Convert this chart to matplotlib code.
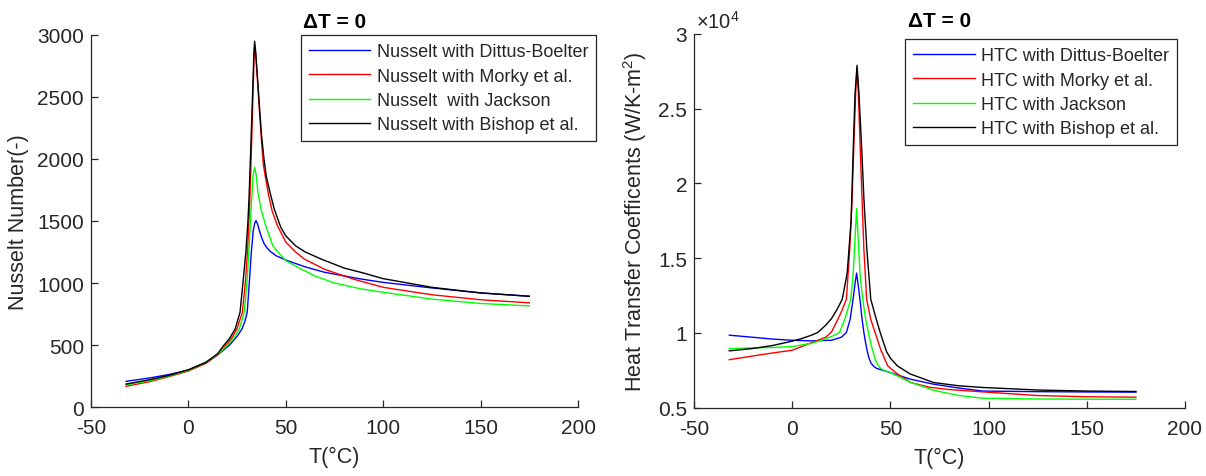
import matplotlib
matplotlib.use('Agg')
import matplotlib.pyplot as plt
from matplotlib.ticker import FuncFormatter

plt.rcParams['font.family'] = ['Liberation Sans', 'DejaVu Sans']
plt.rcParams['mathtext.fontset'] = 'custom'
plt.rcParams['mathtext.rm'] = 'Liberation Sans'
plt.rcParams['mathtext.it'] = 'Liberation Sans:italic'
plt.rcParams['axes.unicode_minus'] = False

# ---- Nusselt number data (left panel) ----
t_nu_db = [-32, -20, -10, 0, 9, 15, 20.8, 25, 27.5, 29, 30.2, 30.8, 31.4, 32.3, 33.3, 34, 34.7,
           35.5, 36.5, 37.5, 38.8, 40, 42, 45, 50, 60, 70, 88.7, 100, 125, 150, 175]
nu_db = [207, 234, 262, 298, 360, 420, 494, 570, 629, 690, 764, 900, 1032, 1250, 1420, 1480, 1503,
         1475, 1420, 1370, 1320, 1290, 1255, 1220, 1185, 1130, 1086, 1032, 1005, 960, 920, 893]

t_nu_mo = [-32, -20, -10, 0, 9, 15, 19.1, 22, 24.9, 27.7, 29.4, 30.5, 31.5, 32.5, 33.3, 33.8, 34.1,
           34.6, 35.5, 36.5, 37.5, 38.5, 40.9, 43, 45.7, 50, 55, 59.4, 70, 85, 100, 125, 150, 175]
nu_mo = [167, 204, 245, 290, 352, 420, 494, 550, 629, 764, 1032, 1300, 1650, 2150, 2600, 2850, 2910,
         2840, 2620, 2380, 2150, 1950, 1730, 1580, 1462, 1330, 1250, 1194, 1110, 1030, 965, 905, 865, 840]

t_nu_ja = [-32, -20, -10, 0, 8.8, 15, 19.9, 23.5, 26.1, 28.7, 30.2, 31.2, 32.2, 33.2, 34, 34.8,
           35.7, 37.5, 39.7, 43.3, 46.5, 50, 57, 64.6, 75, 88.7, 100, 125, 150, 175]
nu_ja = [178, 212, 250, 295, 360, 425, 494, 560, 629, 764, 1032, 1300, 1600, 1870, 1933, 1870,
         1731, 1580, 1462, 1301, 1240, 1180, 1120, 1059, 1000, 952, 925, 870, 835, 815]

t_nu_bi = [-32, -20, -10, 0, 9, 15, 18, 21, 24, 26.5, 28.2, 29.5, 30.5, 31.1, 32, 33, 33.6, 34,
           34.5, 35.5, 36.5, 37.5, 38.8, 40, 41.9, 44, 47.4, 50, 55, 60, 68, 80, 90, 100, 125, 150, 175]
nu_bi = [185, 220, 255, 300, 360, 430, 494, 550, 629, 764, 1032, 1250, 1480, 1677, 2080, 2550, 2850, 2950,
         2870, 2650, 2420, 2200, 2000, 1860, 1730, 1600, 1450, 1380, 1300, 1250, 1194, 1120, 1080, 1035, 965, 920, 893]

# ---- Heat transfer coefficient data (right panel) ----
t_h_db = [-32, -20, -10, 0, 10, 20, 25, 27.6, 29.5, 31, 32, 32.8, 33.6, 34.5, 35.5, 36.5, 37,
          38, 39, 40, 41.5, 43, 44.8, 50, 60, 72, 85, 97, 125, 150, 175]
h_db = [9840, 9700, 9580, 9500, 9460, 9500, 9700, 10020, 10900, 12250, 13300, 14000, 13200, 12250, 11000, 10020, 9600,
        8900, 8350, 8000, 7750, 7620, 7540, 7340, 6900, 6560, 6300, 6100, 6060, 6040, 6030]

t_h_mo = [-32, -20, -10, 0, 10, 17, 20, 22.5, 25, 27.6, 29.3, 30.5, 31.5, 32.3, 33, 33.7, 34.6,
          35.6, 36.5, 37.9, 40, 42.2, 45, 48.6, 54, 60.4, 70, 80, 97, 125, 150, 175]
h_mo = [8200, 8450, 8650, 8830, 9350, 9700, 10050, 10700, 11400, 12250, 15600, 19000, 23000, 26000, 27700, 26000, 22500,
        18800, 15600, 12250, 10900, 10020, 8900, 7790, 7200, 6670, 6350, 6200, 6045, 5800, 5720, 5690]

t_h_ja = [-32, -20, -10, 0, 10, 15, 20, 24.1, 27, 29.8, 31, 32, 32.8, 33.6, 34.6, 35.9, 37.3,
          38.8, 40, 41, 42.2, 43.4, 45, 47, 50, 60, 72, 85, 97, 125, 150, 175]
h_ja = [8940, 8990, 9020, 9080, 9300, 9500, 9750, 10020, 11000, 12250, 13800, 16300, 18330, 16300, 13800, 12250, 11000,
        10020, 9300, 8800, 8250, 7900, 7620, 7460, 7340, 6700, 6150, 5800, 5620, 5570, 5555, 5550]

t_h_bi = [-32, -20, -10, 0, 5, 10, 13, 17, 20, 23, 25.5, 28, 30, 31, 32, 33, 34, 35.4, 36.5, 38,
          40, 42.4, 44.8, 48, 50, 53.5, 60, 72, 85, 97, 125, 150, 175]
h_bi = [8790, 8950, 9150, 9440, 9620, 9850, 10020, 10500, 10950, 11600, 12250, 14000, 17500, 22000, 26000, 27900, 26000, 22300, 19000, 15600,
        12250, 11100, 10020, 8750, 8300, 7790, 7250, 6670, 6450, 6340, 6170, 6100, 6070]

nu_labels = ['Nusselt with Dittus-Boelter', 'Nusselt with Morky et al.',
             'Nusselt  with Jackson', 'Nusselt with Bishop et al.']
h_labels = ['HTC with Dittus-Boelter', 'HTC with Morky et al.',
            'HTC with Jackson', 'HTC with Bishop et al.']
colors = ['#0000ff', '#ff0000', '#00ff00', '#000000']

axcol = '#262626'
W, H = 1206, 477
fig = plt.figure(figsize=(W / 100, H / 100), dpi=100)

ax1 = fig.add_axes([91 / W, 1 - 408 / H, 487 / W, 372 / H])
ax2 = fig.add_axes([694 / W, 1 - 408.5 / H, 491 / W, 373.5 / H])


def style(ax):
    for s in ['top', 'right']:
        ax.spines[s].set_visible(False)
    for s in ['left', 'bottom']:
        ax.spines[s].set_color(axcol)
        ax.spines[s].set_linewidth(0.9)
    ax.tick_params(direction='in', length=5, width=0.9, colors=axcol, labelsize=15)
    ax.tick_params(axis='x', pad=8)
    ax.tick_params(axis='y', pad=5)
    ax.set_xlim(-50, 200)
    ax.set_xticks([-50, 0, 50, 100, 150, 200])
    ax.set_xlabel('T(°C)', fontsize=15.5, color=axcol)
    ax.xaxis.set_label_coords(0.5, -0.105)


for t, v, c, lab in zip([t_nu_db, t_nu_mo, t_nu_ja, t_nu_bi], [nu_db, nu_mo, nu_ja, nu_bi], colors, nu_labels):
    ax1.plot(t, v, color=c, lw=1.0, label=lab)
style(ax1)
ax1.set_ylim(0, 3000)
ax1.set_yticks([0, 500, 1000, 1500, 2000, 2500, 3000])
ax1.set_ylabel('Nusselt Number(-)', fontsize=15.5, color=axcol)
ax1.yaxis.set_label_coords(-0.127, 0.5)
ax1.set_title('ΔT = 0', fontsize=15, fontweight='bold', pad=6)

for t, v, c, lab in zip([t_h_db, t_h_mo, t_h_ja, t_h_bi], [h_db, h_mo, h_ja, h_bi], colors, h_labels):
    ax2.plot(t, v, color=c, lw=1.0, label=lab)
style(ax2)
ax2.set_ylim(5000, 30000)
ax2.set_yticks([5000, 10000, 15000, 20000, 25000, 30000])
ax2.yaxis.set_major_formatter(FuncFormatter(lambda v, p: '%g' % (v / 1e4)))
ax2.set_ylabel('Heat Transfer Coefficents (W/K-m$^2$)', fontsize=15.5, color=axcol)
ax2.yaxis.set_label_coords(-0.092, 0.5)
ax2.set_title('ΔT = 0', fontsize=15, fontweight='bold', pad=6)
ax2.text(0.005, 1.005, r'$\times10^{4}$', transform=ax2.transAxes, fontsize=14.5,
         color=axcol, ha='left', va='bottom')

leg_kw = dict(fontsize=13, frameon=True, fancybox=False, framealpha=1, borderaxespad=0,
              handlelength=3.4, handletextpad=0.35, labelspacing=0.41, borderpad=0.45,
              loc='upper left', bbox_transform=fig.transFigure)
l1 = ax1.legend(bbox_to_anchor=(300.7 / W, 1 - 36 / H), **leg_kw)
l2 = ax2.legend(bbox_to_anchor=(905 / W, 1 - 40 / H), **leg_kw)
for lg in (l1, l2):
    lg.get_frame().set_edgecolor(axcol)
    lg.get_frame().set_linewidth(0.9)
    for tx in lg.get_texts():
        tx.set_color(axcol)

fig.savefig('out.png', dpi=100)
